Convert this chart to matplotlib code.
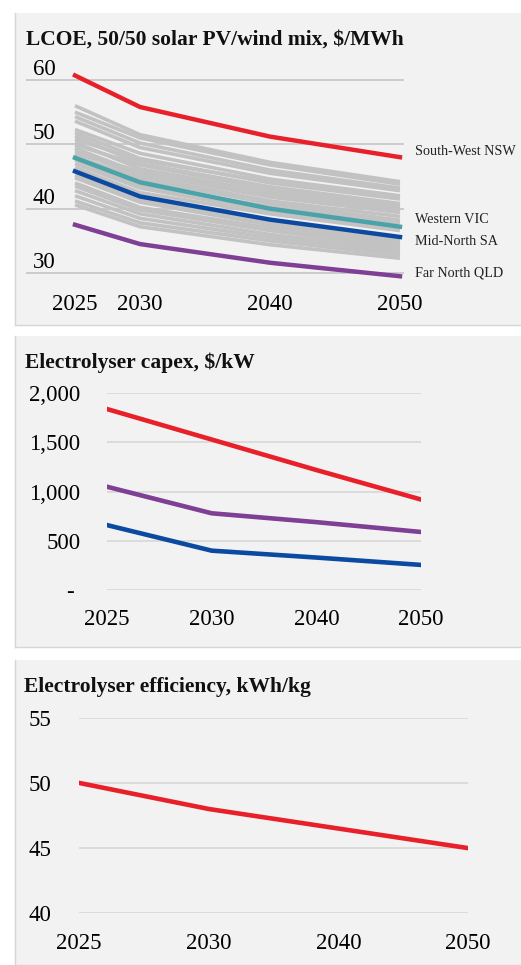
import matplotlib
matplotlib.use("Agg")
import matplotlib.pyplot as plt
from matplotlib.patches import Rectangle
from matplotlib.lines import Line2D
from matplotlib.transforms import offset_copy

plt.rcParams['font.family'] = ['Liberation Serif', 'DejaVu Serif']

# ---------------- data ----------------
years = [2025, 2030, 2040, 2050]
categories = ['2025', '2030', '2040', '2050']

# LCOE of the remaining regions, $/MWh (2025, 2030, 2040, 2050)
lcoe_other_regions = [
    [56.0, 51.5, 47.2, 44.2],
    [55.0, 51.0, 46.8, 43.8],
    [54.3, 50.2, 46.0, 43.2],
    [53.6, 49.5, 45.5, 42.8],
    [52.3, 48.6, 44.6, 42.0],
    [51.8, 47.8, 44.0, 41.5],
    [51.3, 47.0, 43.4, 40.8],
    [50.8, 47.5, 44.2, 41.8],
    [50.3, 46.2, 42.5, 40.2],
    [49.9, 46.8, 43.0, 40.5],
    [49.4, 45.5, 41.8, 39.4],
    [49.0, 45.0, 41.2, 38.8],
    [48.6, 45.8, 42.2, 39.8],
    [48.2, 44.6, 40.8, 38.2],
    [47.6, 43.6, 40.3, 37.8],
    [47.0, 43.2, 39.6, 37.0],
    [46.4, 42.5, 39.2, 36.6],
    [45.2, 41.5, 38.0, 35.2],
    [44.8, 41.0, 37.5, 34.8],
    [44.0, 40.2, 37.0, 34.4],
    [43.5, 39.8, 36.6, 34.0],
    [42.8, 39.2, 36.0, 33.6],
    [42.0, 38.5, 35.5, 33.2],
    [41.2, 37.8, 35.0, 32.8],
    [40.6, 37.2, 34.4, 32.3],
]
lcoe_south_west_nsw = [60.7, 55.8, 51.2, 48.0]
lcoe_western_vic = [47.9, 44.1, 40.0, 37.2]
lcoe_mid_north_sa = [45.8, 41.9, 38.3, 35.6]
lcoe_far_north_qld = [37.5, 34.5, 31.6, 29.5]
lcoe_ticks = [30, 40, 50, 60]

capex_high = [1840, 1530, 1220, 920]
capex_mid = [1050, 780, 690, 590]
capex_low = [660, 400, 330, 255]
capex_ticks = [0, 500, 1000, 1500, 2000]
capex_tick_labels = ['- ', '500', '1,000', '1,500', '2,000']

efficiency = [50.0, 48.0, 46.5, 45.0]
efficiency_ticks = [40, 45, 50, 55]

# ---------------- style ----------------
RED = '#e8202a'
PURPLE = '#7e3f95'
BLUE = '#0b4aa0'
TEAL = '#4aa3a8'
GREY = '#c2c2c2'
PANEL_BG = '#f2f2f2'
TICK_FS = 16.5
TITLE_FS = 15.5

W, H = 521, 965
fig = plt.figure(figsize=(W / 100, H / 100), dpi=100)
fig.patch.set_facecolor('white')


def frac(l, t, r, b):
    """Pixel box (left, top, right, bottom) -> figure-fraction rect."""
    return [l / W, 1 - b / H, (r - l) / W, (b - t) / H]


def panel(t, b):
    x0, y0, w, h = frac(15, t, W, b)
    fig.add_artist(Rectangle((x0, y0), w, h, transform=fig.transFigure,
                             facecolor=PANEL_BG, edgecolor='none', zorder=0))
    fig.add_artist(Line2D([x0, x0], [y0, y0 + h], transform=fig.transFigure,
                          color='#d6d6d6', lw=1, zorder=0))
    fig.add_artist(Line2D([x0, 1], [y0, y0], transform=fig.transFigure,
                          color='#d6d6d6', lw=1, zorder=0))


def clean(ax):
    ax.set_facecolor('none')
    for s in ax.spines.values():
        s.set_visible(False)
    ax.tick_params(length=0, labelsize=TICK_FS)


panel(13, 325)
panel(336, 647)
panel(660, 965)

# ---------------- LCOE ----------------
ax1 = fig.add_axes(frac(26, 67.1, 404, 285.9))
clean(ax1)
ax1.set_xlim(2021.23, 2050.31)
ax1.set_ylim(28, 62)
ax1.set_yticks(lcoe_ticks)
ax1.set_yticklabels([str(v) for v in lcoe_ticks])
ax1.yaxis.grid(True, color='#c8c8c8', lw=1.3)
ax1.set_axisbelow(True)
ax1.tick_params(axis='y', pad=-5)
for lbl in ax1.get_yticklabels():
    lbl.set_horizontalalignment('left')
    lbl.set_verticalalignment('bottom')
ax1.set_xticks(years)
ax1.set_xticklabels([str(y) for y in years])
ax1.tick_params(axis='x', pad=6)

for series in lcoe_other_regions:
    ax1.plot(years, series, color=GREY, lw=2.6, solid_capstyle='butt', zorder=2)
ax1.plot(years, lcoe_south_west_nsw, color=RED, lw=3.2, zorder=3, clip_on=False)
ax1.plot(years, lcoe_western_vic, color=TEAL, lw=3.2, zorder=3)
ax1.plot(years, lcoe_mid_north_sa, color=BLUE, lw=3.2, zorder=3)
ax1.plot(years, lcoe_far_north_qld, color=PURPLE, lw=3.2, zorder=3, clip_on=False)

lab_tr = offset_copy(ax1.transData, fig=fig, x=15, y=0, units='dots')
for name, ypos in [('South-West NSW', 48.85), ('Western VIC', 38.3),
                   ('Mid-North SA', 34.9), ('Far North QLD', 30.0)]:
    ax1.text(2050, ypos, name, transform=lab_tr, fontsize=10.2,
             va='center', ha='left', color='#222222')

# ---------------- Electrolyser capex ----------------
ax2 = fig.add_axes(frac(107, 393.3, 421, 590))
clean(ax2)
ax2.set_xlim(0, 3)
ax2.set_ylim(0, 2000)
ax2.set_yticks(capex_ticks)
ax2.set_yticklabels(capex_tick_labels)
ax2.yaxis.grid(True, color='#d9d9d9', lw=1.3)
ax2.set_axisbelow(True)
ax2.tick_params(axis='y', pad=19)
ax2.set_xticks(range(len(categories)))
ax2.set_xticklabels(categories)
ax2.tick_params(axis='x', pad=14)
x = range(len(categories))
ax2.plot(x, capex_high, color=RED, lw=3.3)
ax2.plot(x, capex_mid, color=PURPLE, lw=3.3)
ax2.plot(x, capex_low, color=BLUE, lw=3.3)

# ---------------- Electrolyser efficiency ----------------
ax3 = fig.add_axes(frac(79, 717.7, 468, 913.3))
clean(ax3)
ax3.set_xlim(0, 3)
ax3.set_ylim(40, 55)
ax3.set_yticks(efficiency_ticks)
ax3.set_yticklabels([str(v) for v in efficiency_ticks])
ax3.yaxis.grid(True, color='#d9d9d9', lw=1.3)
ax3.set_axisbelow(True)
ax3.tick_params(axis='y', pad=20)
ax3.set_xticks(range(len(categories)))
ax3.set_xticklabels(categories)
ax3.tick_params(axis='x', pad=14)
ax3.plot(x, efficiency, color=RED, lw=3.3)

# ---------------- titles ----------------
for text, left, base in [('LCOE, 50/50 solar PV/wind mix, $/MWh', 26, 45),
                         ('Electrolyser capex, $/kW', 25, 368.3),
                         ('Electrolyser efficiency, kWh/kg', 24, 692.3)]:
    fig.text(left / W, 1 - base / H, text, fontsize=TITLE_FS,
             fontweight='bold', ha='left', va='baseline', color='#111111')

fig.savefig('out.png', dpi=100, facecolor='white')
